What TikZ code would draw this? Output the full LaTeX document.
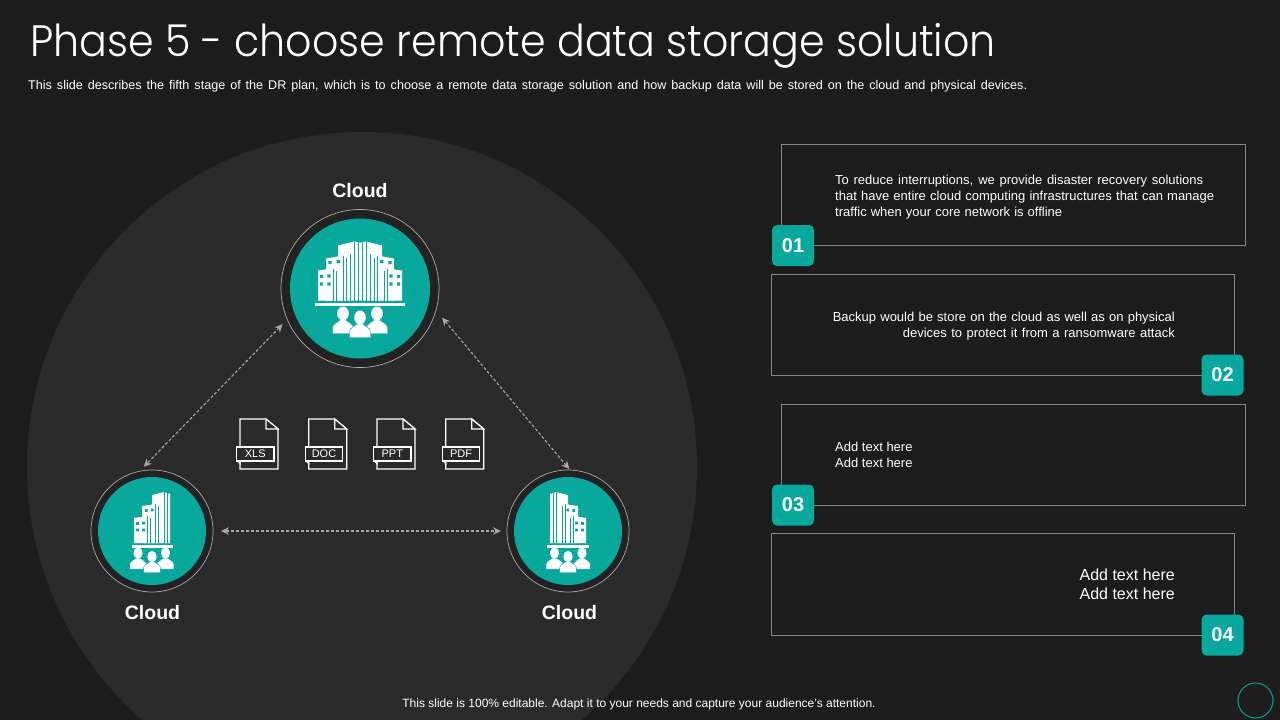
\documentclass[tikz,border=0pt]{standalone}
\usepackage{fontspec}
\setmainfont{Liberation Sans}
\newfontfamily\titlefont{Poppins Light}
\usetikzlibrary{arrows.meta}
\definecolor{bgc}{HTML}{1C1C1C}
\definecolor{discc}{HTML}{2A2A2A}
\definecolor{bandc}{HTML}{222222}
\definecolor{tealc}{HTML}{08A89D}
\definecolor{linec}{HTML}{858585}
\definecolor{ringc}{HTML}{ABABAB}
\definecolor{arrowc}{HTML}{A6A6A6}
\newcommand{\personicon}[3]{%
  \begin{scope}[shift={(#1,#2)},scale=#3]
    \fill[white,draw=tealc,line width=.4pt] (-10.5,20) -- (-10.5,14.5) .. controls (-10.5,10.5) and (-6,9.5) .. (-3,6.5) -- (3,6.5) .. controls (6,9.5) and (10.5,10.5) .. (10.5,14.5) -- (10.5,20) -- cycle;
    \fill[white] (0,0) ellipse (5.8 and 7);
  \end{scope}}
\newcommand{\tower}[4]{% left x, top-left y, right x, top-right y ; floor at y=12
  \fill[white] (#1,#2) -- (#3,#4) -- (#3,12) -- (#1,12) -- cycle;}
\tikzset{
  bigcity/.pic={
    \fill[white] (-6,-47) -- (-2,-46) -- (2,-46) -- (6,-47) -- (6,12) -- (-6,12) -- cycle;
    \foreach \m in {1,-1}{
      \begin{scope}[xscale=\m]
        \tower{-22}{-43}{-6}{-47}
        \draw[tealc,line width=.45pt] (-6,-47) -- (-6,12) (-2,-46) -- (-2,12) (-10,-35) -- (-10,12);
        \tower{-34}{-30}{-17}{-33}
        \fill[white] (-17,-33) -- (-14,-31) -- (-14,12) -- (-17,12) -- cycle;
        \draw[tealc,line width=.45pt] (-17,-33) -- (-17,12) (-14,-31) -- (-14,12);
        \tower{-42}{-18}{-27}{-20}
        \fill[white] (-27,-20) -- (-24,-18) -- (-24,12) -- (-27,12) -- cycle;
        \draw[tealc,line width=.45pt] (-27,-20) -- (-27,12) (-24,-18) -- (-24,12);
        \fill[tealc] (-40.2,-13.7) rectangle +(3.4,3.4) (-32.7,-14.2) rectangle +(3.4,3.4)
          (-40.2,-6.2) rectangle +(3.4,3.4) (-32.7,-6.2) rectangle +(3.4,3.4)
          (-31.7,-27.7) rectangle +(3.4,3.4) (-23.4,-28.7) rectangle +(3.4,3.4);
      \end{scope}}
    \fill[white] (-45,14) rectangle (45,17.5);
    \personicon{-17}{25}{1}
    \personicon{17}{25}{1}
    \personicon{0}{29}{1}
  },
  smallcity/.pic={
    \tower{0}{-36}{12}{-39}
    \fill[white] (12,-39) -- (18,-37) -- (18,12) -- (12,12) -- cycle;
    \draw[tealc,line width=.45pt] (12,-39) -- (12,12) (15,-38) -- (15,12);
    \tower{-10}{-25}{3}{-27}
    \fill[white] (3,-27) -- (6,-25.5) -- (6,12) -- (3,12) -- cycle;
    \draw[tealc,line width=.45pt] (3,-27) -- (3,12) (6,-25.5) -- (6,12);
    \tower{-18}{-13}{-5}{-15}
    \fill[white] (-5,-15) -- (-2,-13.5) -- (-2,12) -- (-5,12) -- cycle;
    \draw[tealc,line width=.45pt] (-5,-15) -- (-5,12) (-2,-13.5) -- (-2,12);
    \fill[tealc] (-15.8,-9) rectangle +(2.8,2.8) (-9.8,-9.5) rectangle +(2.8,2.8)
      (-15.8,-2.5) rectangle +(2.8,2.8) (-9.8,-2.5) rectangle +(2.8,2.8)
      (-7.2,-22) rectangle +(2.8,2.8) (-1.2,-22.5) rectangle +(2.8,2.8);
    \fill[white] (-20.5,14) rectangle (21,16.8);
    \personicon{-14}{22}{.8}
    \personicon{13.5}{22}{.8}
    \personicon{0}{25.5}{.8}
  },
  fileicon/.pic={
    \draw[white,line width=1.3pt,line join=miter,fill=discc] (0,28) -- (0,0) -- (26,0) -- (38,10) -- (38,50) -- (0,50) -- (0,42);
    \draw[white,line width=1.2pt,fill=discc] (26,0) -- (26,10) -- (38,10) -- cycle;
    \fill[white] (-3.3,42) -- (0.6,42) -- (0.6,46) -- cycle;
    \draw[white,line width=1.3pt,fill=discc] (-3.3,28) rectangle (34,42);
    \node[text=white,font=\fontsize{11}{12}\selectfont] at (15.3,35) {\tikzpictext};
  },
  boxframe/.style={draw=linec,line width=.7pt,rectangle,inner sep=0pt,anchor=north west},
  badge/.style={fill=tealc,rounded corners=5pt,text=white,inner sep=0pt,minimum width=42pt,minimum height=41pt,font=\bfseries\fontsize{20}{24}\selectfont},
  ringnode/.style={circle,draw=ringc,fill=bandc,line width=.7pt,inner sep=0pt,outer sep=0pt},
  disknode/.style={circle,fill=tealc,inner sep=0pt,outer sep=0pt},
  linkarrow/.style={draw=arrowc,line width=1.1pt,dash pattern=on 3pt off 2pt,{Stealth[length=8pt,width=7.5pt]}-{Stealth[length=8pt,width=7.5pt]}},
  cloudlabel/.style={text=white,font=\bfseries\fontsize{19.5}{24}\selectfont},
  smalltext/.style={text=white,font=\fontsize{12}{16}\selectfont,inner sep=0pt},
  bodytext/.style={text=white,font=\fontsize{13}{16}\selectfont,inner sep=0pt}
}
\begin{document}
\begin{tikzpicture}[x=1pt,y=-1pt]
\useasboundingbox (0,0) rectangle (1280,720);
\fill[bgc] (0,0) rectangle (1280,720);
\begin{scope}
  \clip (0,0) rectangle (1280,720);
  \fill[discc] (362,467) circle (335);
\end{scope}
% title
\node[anchor=base west,inner sep=0pt,text=white] (title) at (30,56) {\scalebox{.936}[1]{\titlefont\fontsize{44}{50}\selectfont Phase 5 - choose remote data storage solution}};
\node[anchor=base west,smalltext,font=\fontsize{12.6}{16}\selectfont] (sub) at (28,89) {\makebox[999pt][s]{This slide describes the fifth stage of the DR plan, which is to choose a remote data storage solution and how backup data will be stored on the cloud and physical devices.}};
\node[smalltext] (foot) at (639,704.5) {This slide is 100\% editable. Adapt it to your needs and capture your audience's attention.};
% rings
\node[ringnode,minimum size=158pt] (ringT) at (360,288.5) {};
\node[disknode,minimum size=140pt] (diskT) at (360,288.5) {};
\node[ringnode,minimum size=122pt] (ringL) at (152,531) {};
\node[disknode,minimum size=108pt] (diskL) at (152,531) {};
\node[ringnode,minimum size=122pt] (ringR) at (568,531) {};
\node[disknode,minimum size=108pt] (diskR) at (568,531) {};
\pic at (360,288.5) {bigcity};
\pic at (152,531) {smallcity};
\pic[xscale=-1] at (568,531) {smallcity};
\node[cloudlabel] (labT) at (360,191) {Cloud};
\node[cloudlabel] (labL) at (152.5,612.5) {Cloud};
\node[cloudlabel] (labR) at (569.5,612.5) {Cloud};
% connectors
\draw[linkarrow,shorten <=6.7pt,shorten >=6.3pt] (ringT.203.7) -- (ringL.102.7);
\draw[linkarrow,shorten <=9.6pt,shorten >=1.3pt] (ringT.-16.3) -- (ringR.88.3);
\draw[linkarrow,shorten <=8pt,shorten >=6pt] (ringL.0) -- (ringR.180);
% files
\pic[pic text=XLS] at (240,419) {fileicon};
\pic[pic text=DOC] at (308.7,419) {fileicon};
\pic[pic text=PPT] at (377,419) {fileicon};
\pic[pic text=PDF] at (445.7,419) {fileicon};
% boxes
\node[boxframe,minimum width=463.5pt,minimum height=101pt] (box1) at (781,144) {};
\node[boxframe,minimum width=463pt,minimum height=101pt] (box2) at (771,274) {};
\node[boxframe,minimum width=463.5pt,minimum height=101pt] (box3) at (781,404) {};
\node[boxframe,minimum width=463pt,minimum height=102pt] (box4) at (771,533) {};
\node[badge] (b1) at (793,245.5) {01};
\node[badge] (b2) at (1222.5,375) {02};
\node[badge] (b3) at (793,505) {03};
\node[badge] (b4) at (1222.5,635) {04};
\node[bodytext,anchor=north west,align=left] (t1) at (835,174.5) {\makebox[368pt][s]{To reduce interruptions, we provide disaster recovery solutions}\\\makebox[379pt][s]{that have entire cloud computing infrastructures that can manage}\\\makebox[227pt][s]{traffic when your core network is offline}};
\node[bodytext,anchor=north east,align=right] (t2) at (1175,311.5) {\makebox[342pt][s]{Backup would be store on the cloud as well as on physical}\\\makebox[272pt][s]{devices to protect it from a ransomware attack}};
\node[bodytext,anchor=north west,align=left] (t3) at (835,441.5) {Add text here\\Add text here};
\node[text=white,inner sep=0pt,anchor=north east,align=right,font=\fontsize{16}{19}\selectfont] (t4) at (1175,569) {Add text here\\Add text here};
\node[circle,draw=tealc!90!black,line width=1.1pt,minimum size=35pt,inner sep=0pt] (mark) at (1255.5,700.5) {};
\end{tikzpicture}
\end{document}
